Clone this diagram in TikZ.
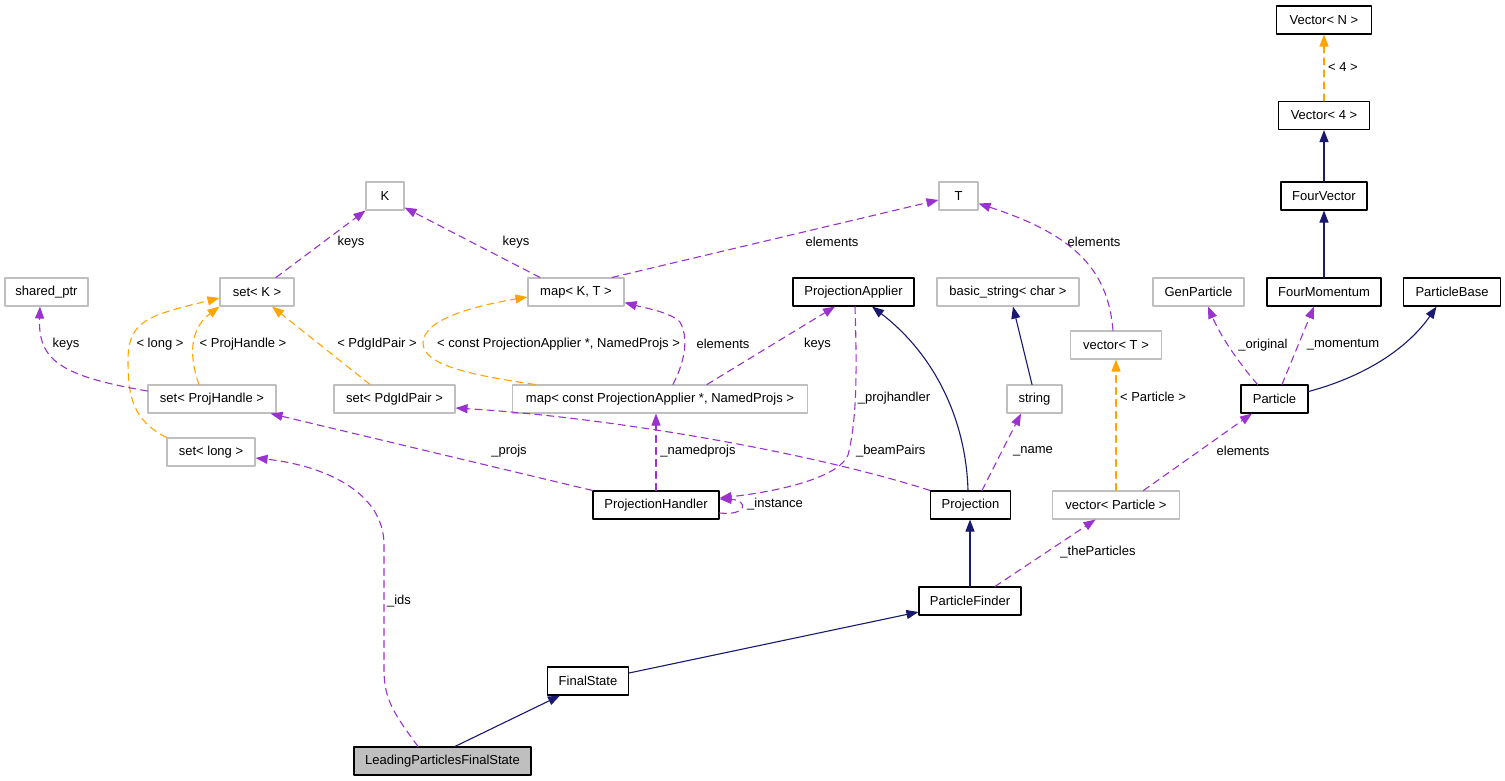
\documentclass[tikz,border=0pt]{standalone}
\usepackage{fontspec}
\setmainfont{Liberation Sans}
\usetikzlibrary{arrows.meta}
\definecolor{inhcol}{HTML}{191970}
\definecolor{memcol}{HTML}{9A32CD}
\definecolor{tplcol}{HTML}{FFA500}
\definecolor{extcol}{HTML}{BFBFBF}
\definecolor{selcol}{HTML}{BFBFBF}

\begin{document}
\begin{tikzpicture}[line cap=round,line join=round,>={Triangle[length=12pt,width=9pt]},x=1pt,y=-1pt,
  cls/.style={draw=black,fill=white,line width=1.1pt,minimum height=28,inner sep=0pt,font=\fontsize{13}{15}\selectfont},
  ext/.style={cls,draw=extcol},
  lbl/.style={inner sep=0pt,font=\fontsize{13}{15}\selectfont},
  inherit/.style={->,draw=inhcol,line width=1.1pt},
  member/.style={->,draw=memcol,line width=1.1pt,dash pattern=on 7pt off 5pt},
  tmpl/.style={->,draw=tplcol,line width=1.1pt,dash pattern=on 7pt off 5pt}]
\useasboundingbox[fill=white] (0,0) rectangle (1505,781);

%luokat
\node[cls,minimum width=95] (vecn) at (1324,20) {Vector< N >};
\node[cls,minimum width=91] (vec4) at (1324,115.5) {Vector< 4 >};
\node[cls,minimum width=86] (fourvec) at (1324,196) {FourVector};
\node[cls,minimum width=114] (fourmom) at (1324,292) {FourMomentum};
\node[cls,minimum width=97] (pbase) at (1452,292) {ParticleBase};
\node[ext,minimum width=91] (genp) at (1198.5,292) {GenParticle};
\node[cls,minimum width=67] (particle) at (1274.5,399) {Particle};
\node[ext,minimum width=91] (vecT) at (1116,345) {vector< T >};
\node[ext,minimum width=127] (vecP) at (1116,505) {vector< Particle >};
\node[ext,minimum width=55] (str) at (1034.5,399) {string};
\node[ext,minimum width=142] (bstr) at (1008,292) {basic\_string< char >};
\node[ext,minimum width=39] (tT) at (958.5,196) {T};
\node[ext,minimum width=38] (tK) at (385,196) {K};
\node[ext,minimum width=96] (mapKT) at (576,292) {map< K, T >};
\node[cls,minimum width=121] (papp) at (853.5,292) {ProjectionApplier};
\node[ext,minimum width=295] (mapPA) at (660,399) {map< const ProjectionApplier *, NamedProjs >};
\node[ext,minimum width=83] (sptr) at (46.5,292) {shared\_ptr};
\node[ext,minimum width=74] (setK) at (257,292) {set< K >};
\node[ext,minimum width=128] (setPH) at (212,399) {set< ProjHandle >};
\node[ext,minimum width=121] (setPdg) at (394.5,399) {set< PdgIdPair >};
\node[ext,minimum width=88] (setL) at (211,452) {set< long >};
\node[cls,minimum width=126] (phand) at (656,505) {ProjectionHandler};
\node[cls,minimum width=80] (proj) at (970.5,505) {Projection};
\node[cls,minimum width=102] (pfind) at (970,601) {ParticleFinder};
\node[cls,minimum width=81] (fstate) at (588,681) {FinalState};
\node[cls,fill=selcol,minimum width=177] (lpfs) at (442.5,761) {LeadingParticlesFinalState};

%perinta
\draw[inherit] ([xshift=12.5pt]lpfs.north) -- ([xshift=-28pt]fstate.south);
\draw[inherit] ([yshift=8pt]fstate.east) -- ([yshift=-11pt]pfind.west);
\draw[inherit] (pfind.north) -- (pfind.north |- proj.south);
\draw[inherit] ([xshift=-2.5pt]proj.north) .. controls (966,420) and (935,355) .. ([xshift=18.5pt]papp.south);
\draw[inherit] ([xshift=-2.5pt]str.north) -- ([xshift=5pt]bstr.south);
\draw[inherit] ([yshift=7.5pt]particle.east) .. controls (1370,375) and (1410,345) .. ([xshift=-15.5pt]pbase.south);
\draw[inherit] (fourmom.north) -- (fourvec.south);
\draw[inherit] (fourvec.north) -- (vec4.south);

%templatet
\draw[tmpl] (vec4.north) -- (vecn.south);
\draw[tmpl] (vecP.north) -- (vecT.south);
\draw[tmpl] ([xshift=-13pt]setPH.north) .. controls (190,360) and (188,330) .. (setK.south west);
\draw[tmpl] ([xshift=-24.5pt]setPdg.north) -- ([xshift=15pt]setK.south);
\draw[tmpl] (setL.north west) .. controls (132,420) and (128,395) .. (128,360)
  .. controls (128,320) and (150,315) .. ([yshift=-6pt]setK.west);
\draw[tmpl] ([xshift=-125pt]mapPA.north) .. controls (470,375) and (423,365) .. (423,343)
  .. controls (423,318) and (480,305) .. ([yshift=-5pt]mapKT.west);

%jasenet
\draw[member] ([xshift=19pt]setK.north) -- (tK.south west);
\draw[member] ([xshift=-36pt]mapKT.north) -- ([yshift=3pt]tK.south east);
\draw[member] ([xshift=36pt]mapKT.north) -- ([yshift=-4pt]tT.west);
\draw[member] ([xshift=-3pt]vecT.north) .. controls (1108,270) and (1075,235) .. ([yshift=7pt]tT.south east);
\draw[member] ([yshift=8pt]setPH.west) .. controls (60,376) and (38,360) .. ([xshift=-6.5pt]sptr.south);
\draw[member] ([xshift=13pt]mapPA.north) .. controls (683,365) and (690,340) .. (680,322)
  .. controls (670,312) and (645,308) .. ([yshift=4pt]mapKT.south east);
\draw[member] ([xshift=47pt]mapPA.north) -- ([xshift=-18.5pt]papp.south);
\draw[member] ([xshift=1.5pt]papp.south) .. controls (857,370) and (857,420) .. (848,455)
  .. controls (840,475) and (790,490) .. ([yshift=7pt]phand.east);
\draw[member] ([yshift=-8pt]phand.east) .. controls (748,516) and (748,500) .. ([yshift=6pt]phand.east);
\draw[member] (phand.north) -- (phand.north |- mapPA.south);
\draw[member] (phand.north west) -- ([xshift=-6pt]setPH.south east);
\draw[member] (proj.north west) .. controls (820,455) and (620,418) .. ([yshift=-9pt]setPdg.east);
\draw[member] ([xshift=11.5pt]proj.north) -- ([xshift=-13.5pt]str.south);
\draw[member] ([xshift=-24.5pt]lpfs.north) .. controls (395,715) and (384,700) .. (384,670)
  -- (384,545) .. controls (384,490) and (320,465) .. ([yshift=-6pt]setL.east);
\draw[member] ([xshift=25pt]pfind.north) -- ([xshift=-20.5pt]vecP.south);
\draw[member] ([xshift=27.5pt]vecP.north) -- ([xshift=-22.5pt]particle.south);
\draw[member] ([xshift=-17pt]particle.north) .. controls (1238,362) and (1220,335) .. ([xshift=9.5pt]genp.south);
\draw[member] ([xshift=7.5pt]particle.north) -- ([xshift=-10pt]fourmom.south);

%nimet
\node[lbl] (l-4) at (1343,67) {< 4 >};
\node[lbl] (l-keysK) at (351,242) {keys};
\node[lbl] (l-keysM) at (516,242) {keys};
\node[lbl] (l-elemM) at (832,242) {elements};
\node[lbl] (l-elemV) at (1094,242) {elements};
\node[lbl] (l-keysS) at (66,344) {keys};
\node[lbl] (l-long) at (160,344) {< long >};
\node[lbl] (l-ph) at (243,344) {< ProjHandle >};
\node[lbl] (l-pdg) at (377,344) {< PdgIdPair >};
\node[lbl] (l-cpa) at (558.5,344) {< const ProjectionApplier *, NamedProjs >};
\node[lbl] (l-elemP) at (723,344) {elements};
\node[lbl] (l-keysP) at (817.5,344) {keys};
\node[lbl] (l-orig) at (1263,345) {\_original};
\node[lbl] (l-mom) at (1343,345) {\_momentum};
\node[lbl] (l-part) at (1153,397) {< Particle >};
\node[lbl] (l-phandler) at (894,398) {\_projhandler};
\node[lbl] (l-projs) at (509,451) {\_projs};
\node[lbl] (l-named) at (698,451) {\_namedprojs};
\node[lbl] (l-beam) at (890.7,451) {\_beamPairs};
\node[lbl] (l-name) at (1033,451) {\_name};
\node[lbl] (l-elemE) at (1243,451) {elements};
\node[lbl] (l-inst) at (775,504) {\_instance};
\node[lbl] (l-thep) at (1098,552) {\_theParticles};
\node[lbl] (l-ids) at (399,601) {\_ids};
\end{tikzpicture}
\end{document}
